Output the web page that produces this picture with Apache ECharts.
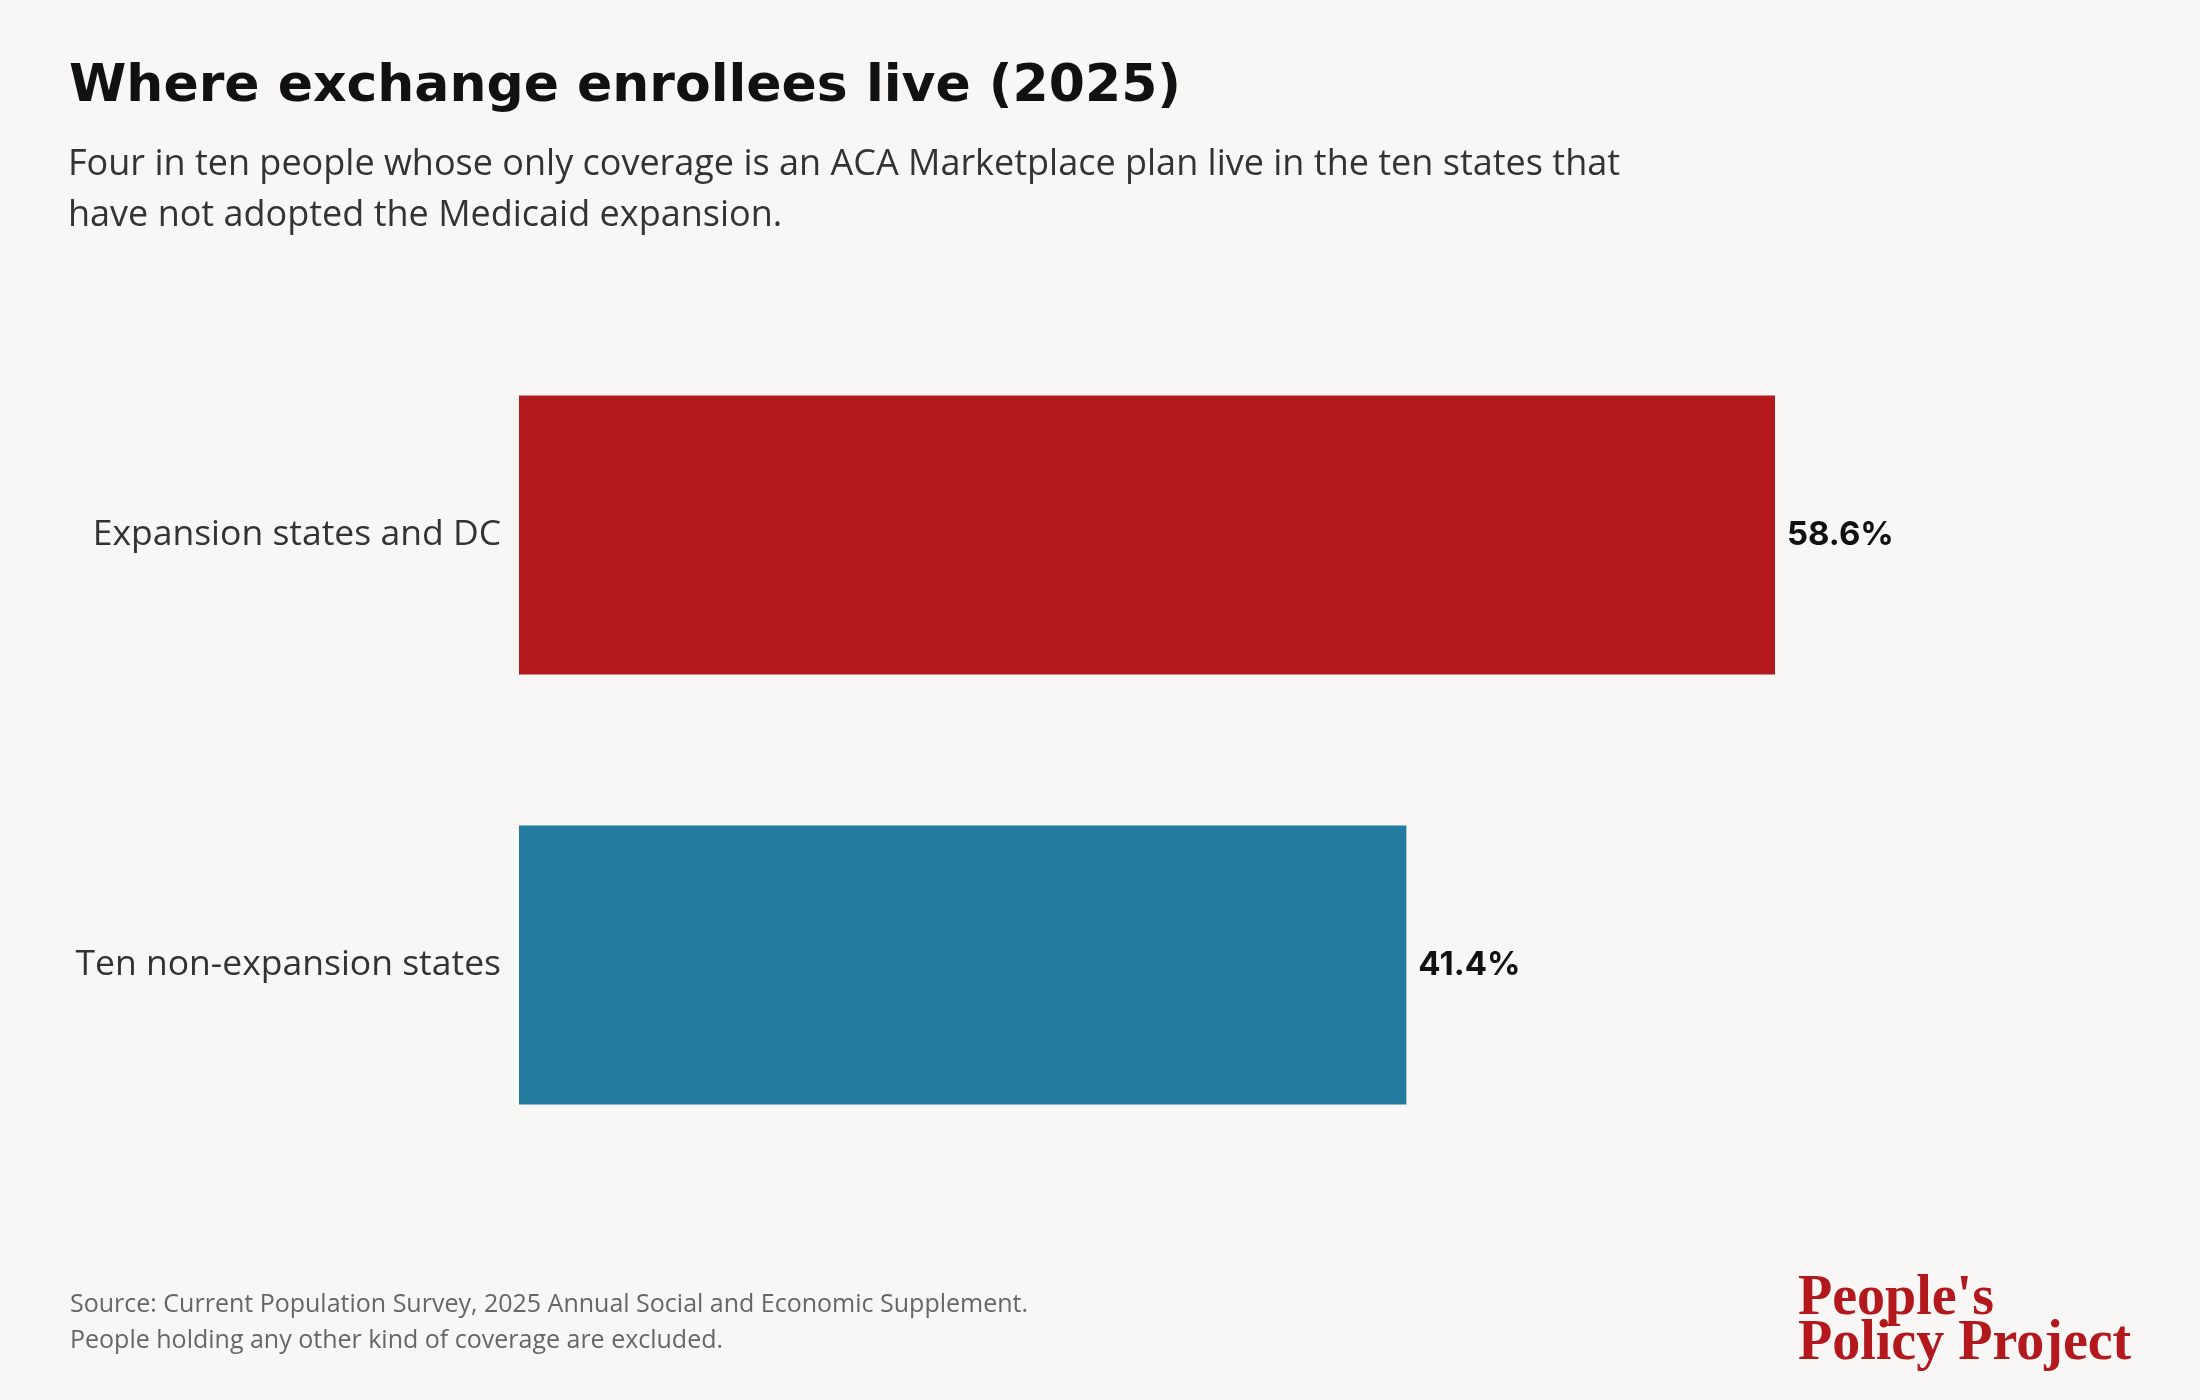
<!DOCTYPE html>
<html>
<head>
<meta charset="utf-8">
<script src="https://cdn.jsdelivr.net/npm/echarts@6/dist/echarts.min.js"></script>
<style>
  html, body { margin: 0; padding: 0; background: #f8f7f5; }
  #chart { width: 2200px; height: 1400px; }
</style>
</head>
<body>
<div id="chart"></div>
<script>
// data
var categories = ['Expansion states and DC', 'Ten non-expansion states'];
var shares = [58.6, 41.4];
var barColors = ['#b3181d', '#237b9f'];

var chart = echarts.init(document.getElementById('chart'), null, { width: 2200, height: 1400 });

var option = {
  backgroundColor: '#f8f7f5',
  animation: false,
  title: [
    {
      text: 'Where exchange enrollees live (2025)',
      left: 64, top: 56,
      textStyle: { fontFamily: 'DejaVu Sans', fontWeight: 'bold', fontSize: 52, color: '#111111' }
    },
    {
      text: 'Four in ten people whose only coverage is an ACA Marketplace plan live in the ten states that\nhave not adopted the Medicaid expansion.',
      left: 63, top: 134,
      textStyle: { fontFamily: 'Open Sans', fontWeight: 'normal', fontSize: 36, lineHeight: 51, color: '#333333' }
    },
    {
      text: 'Source: Current Population Survey, 2025 Annual Social and Economic Supplement.\nPeople holding any other kind of coverage are excluded.',
      left: 65, top: 1282,
      textStyle: { fontFamily: 'Open Sans', fontWeight: 'normal', fontSize: 25, lineHeight: 36, color: '#666666' }
    },
    {
      text: "People's\nPolicy Project",
      left: 1793, top: 1272,
      textStyle: { fontFamily: 'Liberation Serif', fontWeight: 'bold', fontSize: 56, lineHeight: 45, color: '#b3181d' }
    }
  ],
  grid: { left: 519, right: 395, top: 320, bottom: 220, containLabel: false },
  xAxis: {
    type: 'value',
    min: 0, max: 60,
    show: false
  },
  yAxis: {
    type: 'category',
    data: categories,
    inverse: true,
    axisLine: { show: false },
    axisTick: { show: false },
    axisLabel: {
      margin: 18,
      fontFamily: 'Open Sans',
      fontSize: 35.5,
      color: '#333333'
    }
  },
  series: [{
    type: 'bar',
    barWidth: 279,
    data: shares.map(function (v, i) {
      return { value: v, itemStyle: { color: barColors[i] } };
    }),
    label: {
      show: true,
      position: 'right',
      distance: 12,
      fontFamily: 'Inter',
      fontWeight: 'bold',
      fontSize: 33,
      color: '#111111',
      formatter: function (p) { return p.value.toFixed(1) + '%'; }
    }
  }]
};

chart.setOption(option);
</script>
</body>
</html>
